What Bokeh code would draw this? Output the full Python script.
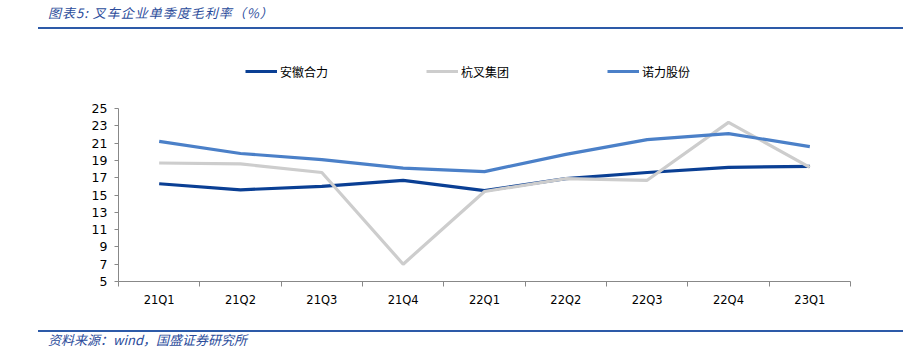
from bokeh.plotting import figure
from bokeh.layouts import column
from bokeh.models import Range1d, FixedTicker, Legend, LegendItem, Div
from bokeh.embed import file_html
from bokeh.resources import INLINE

quarters = ["21Q1", "21Q2", "21Q3", "21Q4", "22Q1", "22Q2", "22Q3", "22Q4", "23Q1"]
heli = [16.3, 15.6, 16.0, 16.7, 15.5, 16.9, 17.6, 18.2, 18.3]
hangcha = [18.7, 18.6, 17.6, 7.0, 15.4, 16.9, 16.7, 23.4, 18.2]
noli = [21.2, 19.8, 19.1, 18.1, 17.7, 19.7, 21.4, 22.1, 20.6]
names = ["安徽合力", "杭叉集团", "诺力股份"]
y_ticks = [5, 7, 9, 11, 13, 15, 17, 19, 21, 23, 25]
title_text = "图表5:  叉车企业单季度毛利率（%）"
source_text = "资料来源：wind，国盛证券研究所"

W = 903
TOP_H, MAIN_H, BOT_H = 40, 280, 33
text_blue = "#2b4c9b"
rule_blue = "#2d5aa8"
font_css = "font-family:'Noto Sans CJK SC',sans-serif;font-style:italic;font-size:13px;"


def strip_div(h, text, text_top, rule_top, spacing):
    html = (
        f'<div style="position:relative;width:{W}px;height:{h}px;margin:0;padding:0;">'
        f'<span style="position:absolute;left:48px;top:{text_top}px;{font_css}color:{text_blue};'
        f'letter-spacing:{spacing}px;line-height:16px;white-space:nowrap;">{text}</span>'
        f'<div style="position:absolute;left:38px;top:{rule_top}px;width:{W - 38}px;height:2px;'
        f'background:{rule_blue};"></div></div>'
    )
    return Div(text=html, width=W, height=h, margin=0)


top = strip_div(TOP_H, title_text, 5, 27, 1)
bot = strip_div(BOT_H, source_text, 12, 10, 0)

# --- main chart: frame extends upward so the legend sits inside it
FL, FR = 118, 850
FB_PAGE = 281            # pixel of y = 5 on the page
PX_PER_UNIT = (281 - 108) / 20.0
frame_h = FB_PAGE - TOP_H
y_top = 5 + frame_h / PX_PER_UNIT

p = figure(width=W, height=MAIN_H, output_backend="svg", toolbar_location=None,
           x_range=Range1d(0, len(quarters)), y_range=Range1d(5, y_top),
           min_border_left=FL, min_border_right=W - FR,
           min_border_top=0, min_border_bottom=MAIN_H - frame_h, margin=0)
p.outline_line_color = None
p.grid.visible = False
p.background_fill_color = "white"
p.border_fill_color = "white"

xs = [i + 0.5 for i in range(len(quarters))]
colors = ["#0a3f94", "#cdcdcd", "#4b80c8"]
renderers = []
for vals, c in zip([heli, hangcha, noli], colors):
    renderers.append(p.line(xs, vals, line_color=c, line_width=3.2))

xa = p.xaxis[0]
xa.ticker = FixedTicker(ticks=xs, minor_ticks=list(range(len(quarters) + 1)))
xa.major_label_overrides = {x: q for x, q in zip(xs, quarters)}
xa.major_tick_in = 0
xa.major_tick_out = 0
xa.minor_tick_in = 0
xa.minor_tick_out = 5
xa.minor_tick_line_color = "#888888"
xa.axis_line_color = "#888888"
xa.major_label_standoff = 6
xa.major_label_text_font = "DejaVu Sans"
xa.major_label_text_font_size = "11.5px"
xa.major_label_text_color = "#000000"

ya = p.yaxis[0]
ya.ticker = FixedTicker(ticks=y_ticks)
ya.bounds = (5, 25)
ya.major_tick_in = 0
ya.major_tick_out = 4
ya.minor_tick_line_color = None
ya.major_tick_line_color = "#888888"
ya.axis_line_color = "#888888"
ya.major_label_standoff = 7
ya.major_label_text_font = "DejaVu Sans"
ya.major_label_text_font_size = "12.5px"
ya.major_label_text_color = "#000000"

legend = Legend(items=[LegendItem(label=n, renderers=[r]) for n, r in zip(names, renderers)],
                orientation="horizontal", location=(245 - FL, FB_PAGE - 81),
                glyph_width=32, glyph_height=20, label_standoff=3, label_width=146,
                label_height=20, spacing=0, padding=0, margin=0, border_line_color=None,
                background_fill_alpha=0, label_text_font="Noto Sans CJK SC",
                label_text_font_size="12px", label_text_color="#000000")
p.add_layout(legend, "center")

layout = column(top, p, bot, spacing=0, margin=0)
open("out.html", "w").write(file_html(layout, INLINE))
